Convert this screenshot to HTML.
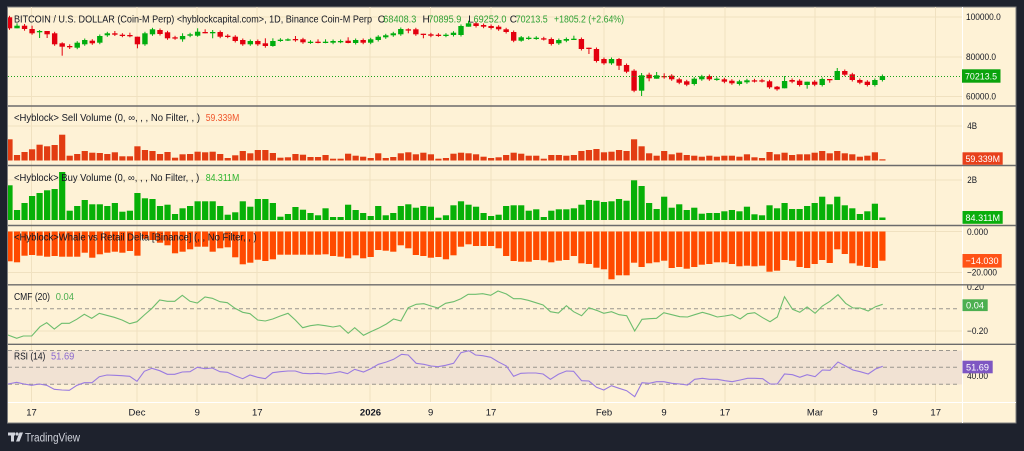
<!DOCTYPE html>
<html><head><meta charset="utf-8"><style>
html,body{margin:0;padding:0;background:#1e222d;}
svg{display:block;}
text{font-family:"Liberation Sans",Arial,sans-serif;}
</style></head><body>
<svg id="s" width="1024" height="451" viewBox="0 0 1024 451" xmlns="http://www.w3.org/2000/svg">
<defs>
<clipPath id="plot"><rect x="8" y="7" width="954" height="395"/></clipPath>
<clipPath id="cmfax"><rect x="962" y="285.5" width="54" height="58"/></clipPath>
</defs>
<rect width="1024" height="451" fill="#1e222d"/>
<rect x="7.5" y="7" width="1008.5" height="416" fill="#fef2d6" stroke="#7d7d7d" stroke-width="1"/>

<!-- grid -->
<g stroke="#f0e1c0" stroke-width="1">
<line x1="31.5" y1="7" x2="31.5" y2="402"/><line x1="137" y1="7" x2="137" y2="402"/><line x1="197" y1="7" x2="197" y2="402"/><line x1="257" y1="7" x2="257" y2="402"/><line x1="370" y1="7" x2="370" y2="402"/><line x1="430.5" y1="7" x2="430.5" y2="402"/><line x1="491" y1="7" x2="491" y2="402"/><line x1="604" y1="7" x2="604" y2="402"/><line x1="664" y1="7" x2="664" y2="402"/><line x1="725" y1="7" x2="725" y2="402"/><line x1="815" y1="7" x2="815" y2="402"/><line x1="875" y1="7" x2="875" y2="402"/><line x1="935.5" y1="7" x2="935.5" y2="402"/>
<line x1="8" y1="17" x2="962" y2="17"/><line x1="8" y1="57" x2="962" y2="57"/><line x1="8" y1="96.5" x2="962" y2="96.5"/>
<line x1="8" y1="126" x2="962" y2="126"/><line x1="8" y1="180" x2="962" y2="180"/>
<line x1="8" y1="231.5" x2="962" y2="231.5"/><line x1="8" y1="272.5" x2="962" y2="272.5"/>
<line x1="8" y1="331" x2="962" y2="331"/>
</g>

<!-- RSI band -->
<rect x="8" y="350.5" width="954" height="34" fill="#f1e2d3"/>

<g clip-path="url(#plot)">
<g id="candles"></g>
<g id="sell"></g>
<g id="buy"></g>
<g id="delta"></g>
<line x1="8" y1="76.5" x2="962" y2="76.5" stroke="#1aa31a" stroke-width="1" stroke-dasharray="1,2"/>
<g stroke="#9a968e" stroke-width="1" stroke-dasharray="4,3" fill="none">
<line x1="8" y1="308.7" x2="960" y2="308.7"/>
<line x1="8" y1="350.5" x2="960" y2="350.5"/>
<line x1="8" y1="367.3" x2="960" y2="367.3"/>
<line x1="8" y1="384.3" x2="960" y2="384.3"/>
</g>
<polyline fill="none" stroke="#6dbd6d" stroke-width="1.1" points="8,335 16.7,338.3 23.3,336 31.7,336 40,326.7 46.7,322.7 54.3,329 61.7,323.3 69.3,323.3 76.7,319.3 84.3,314.3 91.7,318.3 99.3,313.3 106.7,315.3 114.3,317.3 122,320 129.7,323.7 137,321.7 144.3,315 152,308.3 159.7,300 167.3,301.3 174.7,301.3 182.3,295.3 190,301.3 197.3,303 205,297 212.3,298.3 220,301.7 227.3,302.7 235,308.3 242.7,312.3 250,313.7 257.7,320 265.3,321 272.7,319 280.3,316 288,313.3 295.3,320 302.7,327.7 310.3,325.7 318,324.7 325.3,325.7 333,327 340,325.7 348.2,333.3 354.7,327.7 363.5,335.3 370.7,331.7 378.4,328.3 386.4,324 393.6,319 400.9,321 408.2,307.7 416.2,304.3 423.8,303.7 431.1,306 438,308 445.6,303.3 453.6,301.7 460.9,298.7 468.2,294.3 475.5,294.3 482.7,293.7 490.7,295.3 498,291 506.4,294 513.6,298.7 520.9,298.7 528.2,300.3 535.8,302.7 543.1,305 550.4,311.7 558.4,313 566.4,305.7 573.6,311.7 581.6,315.7 588.9,307.7 596.5,310.3 603.8,313.3 611.5,311.7 619.1,314.7 626.7,315.7 634.7,331 642,319.3 649.3,318.7 656.5,318.3 663.8,312.7 671.8,314.7 679.8,316.7 687.5,317 694.7,314.7 702.4,312.3 709.6,314.3 717.3,317 724.9,316 732.2,314.7 740.2,319 747.5,313.7 754.7,312.7 762.7,317.7 770,321.7 777.3,317 784.5,296.7 792.5,309.3 799.8,312.3 807.1,307 815.1,313.3 822.4,306 830,301.3 838,294.7 845.6,303.3 852.9,308 860.2,308 868.2,311 875.5,306.7 882.7,304.3"/>
<polyline fill="none" stroke="#9a7be0" stroke-width="1.1" points="8,384 16.7,382.3 24,384 31.7,385.3 39.3,384 46.7,385.3 54.3,389.3 62,390 69.3,390.3 77,385.3 84.3,382.7 92,382.7 99.3,376.7 107,375 114.7,375.3 122,375.7 129.7,376.3 137,381.3 144.3,371.3 152,368.3 159.7,370.7 167.3,374.3 174.7,374.3 182.3,372 190,371.7 197.3,367.3 205,368.7 212.3,368 220,371.7 227.3,372.3 235,375.7 242.7,378.7 250,375 257.7,377.3 265.3,378.7 272.7,372.7 280.3,371.7 288,371 295.3,371 302.7,373.3 310.3,373.7 318,373.3 325.3,374 333,373 340,371.7 347.5,373.7 354.7,369.3 363.5,372 370.7,368.7 378.4,364.3 386.4,362 393.6,359.3 401.6,354.3 408.2,355 416.2,363.3 423.8,364.3 431.1,366 438,366.7 445.6,365.3 453.6,363.3 460.9,352.7 468.9,350.7 475.5,355 482.7,355.7 490.7,357.3 498,361.7 506.4,366 513.6,376.3 520.9,373.3 528.2,373 535.8,373 543.1,374 550.4,379.3 558.4,374.3 566.4,371 573.6,371.3 581.6,380.7 588.9,381 596.5,387.3 603.8,390 611.5,385.7 619.1,388.3 626.7,390.7 634.7,396.7 642,382.7 649.3,383.3 656.5,381.7 663.8,381.7 671.8,383.3 679.8,384 687.5,385 694.7,379.3 702.4,378.3 709.6,379.3 717.3,379.3 724.9,380.7 732.2,381.7 740.2,380 747.5,378.3 754.7,378.3 762.7,378.7 770,384 777.3,384 784.5,374 792.5,374.7 799.8,377.3 807.1,374.7 815.1,376.7 822.4,370 830,370.3 838,362 845.6,366 852.9,370 860.2,371.7 868.2,374 875.5,369 882.7,366.3"/>
</g>

<!-- separators and axis lines -->
<line x1="962.5" y1="7" x2="962.5" y2="423" stroke="#ffffff" stroke-width="1"/>
<line x1="8" y1="402.5" x2="1016" y2="402.5" stroke="#ffffff" stroke-width="1"/>
<g stroke="#6b6b6b" stroke-width="1.4">
<line x1="8" y1="106" x2="1016" y2="106"/>
<line x1="8" y1="165.5" x2="1016" y2="165.5"/>
<line x1="8" y1="225.5" x2="1016" y2="225.5"/>
<line x1="8" y1="284.8" x2="1016" y2="284.8"/>
<line x1="8" y1="344.3" x2="1016" y2="344.3"/>
</g>

<!-- header -->
<g font-size="10" fill="#131722">
<text x="14" y="22.6" textLength="358" lengthAdjust="spacingAndGlyphs">BITCOIN / U.S. DOLLAR (Coin-M Perp) &lt;hyblockcapital.com&gt;, 1D, Binance Coin-M Perp</text>
<text x="377.7" y="22.6">O</text><text x="383.3" y="22.6" fill="#2fa134" textLength="33" lengthAdjust="spacingAndGlyphs">68408.3</text>
<text x="422.5" y="22.6">H</text><text x="428.3" y="22.6" fill="#2fa134" textLength="33" lengthAdjust="spacingAndGlyphs">70895.9</text>
<text x="468.3" y="22.6">L</text><text x="473.5" y="22.6" fill="#2fa134" textLength="33" lengthAdjust="spacingAndGlyphs">69252.0</text>
<text x="509.8" y="22.6">C</text><text x="515.7" y="22.6" fill="#2fa134" textLength="32" lengthAdjust="spacingAndGlyphs">70213.5</text>
<text x="554" y="22.6" fill="#2fa134" textLength="70" lengthAdjust="spacingAndGlyphs">+1805.2 (+2.64%)</text>

<text x="14" y="121.2" textLength="186" lengthAdjust="spacingAndGlyphs">&lt;Hyblock&gt; Sell Volume (0, ∞, , , No Filter, , )</text>
<text x="205.7" y="121.2" fill="#f0562c" textLength="33.6" lengthAdjust="spacingAndGlyphs">59.339M</text>
<text x="14" y="181.2" textLength="185.3" lengthAdjust="spacingAndGlyphs">&lt;Hyblock&gt; Buy Volume (0, ∞, , , No Filter, , )</text>
<text x="205.7" y="181.2" fill="#2db52d" textLength="33.6" lengthAdjust="spacingAndGlyphs">84.311M</text>
<text x="14" y="240.5" textLength="242.7" lengthAdjust="spacingAndGlyphs">&lt;Hyblock&gt;Whale vs Retail Delta [Binance] (, , No Filter, , )</text>
<text x="14" y="300.2" textLength="36" lengthAdjust="spacingAndGlyphs">CMF (20)</text>
<text x="55.7" y="300.2" fill="#4caf50" textLength="18.3" lengthAdjust="spacingAndGlyphs">0.04</text>
<text x="14" y="359.5" textLength="31.3" lengthAdjust="spacingAndGlyphs">RSI (14)</text>
<text x="51" y="359.5" fill="#8a68d0" textLength="23.3" lengthAdjust="spacingAndGlyphs">51.69</text>
</g>

<!-- right axis -->
<g font-size="9" fill="#131722">
<text x="966" y="19.8" textLength="34.7" lengthAdjust="spacingAndGlyphs">100000.0</text>
<text x="966" y="60.2" textLength="30" lengthAdjust="spacingAndGlyphs">80000.0</text>
<text x="966" y="99.4" textLength="30" lengthAdjust="spacingAndGlyphs">60000.0</text>
<text x="967.3" y="129.2" textLength="9.7" lengthAdjust="spacingAndGlyphs">4B</text>
<text x="967.3" y="183.2" textLength="9.7" lengthAdjust="spacingAndGlyphs">2B</text>
<text x="967" y="234.9" textLength="21" lengthAdjust="spacingAndGlyphs">0.000</text>
<text x="967" y="275.5" textLength="30" lengthAdjust="spacingAndGlyphs">−20.000</text>
<text x="967" y="289.9" clip-path="url(#cmfax)" textLength="17" lengthAdjust="spacingAndGlyphs">0.20</text>
<text x="967" y="334.2" textLength="21" lengthAdjust="spacingAndGlyphs">−0.20</text>
<text x="967" y="379.2" textLength="21" lengthAdjust="spacingAndGlyphs">40.00</text>
</g>
<rect x="962" y="69.3" width="38.5" height="13.4" fill="#0aa30c"/>
<text x="965" y="79.3" font-size="9.5" fill="#ffffff" textLength="32" lengthAdjust="spacingAndGlyphs">70213.5</text>
<rect x="962.5" y="152.3" width="40.2" height="12.4" fill="#e8401a"/>
<text x="965.5" y="161.8" font-size="9.5" fill="#ffffff" textLength="34.5" lengthAdjust="spacingAndGlyphs">59.339M</text>
<rect x="962.5" y="211" width="40.2" height="12.8" fill="#0aae0c"/>
<text x="965.5" y="220.8" font-size="9.5" fill="#ffffff" textLength="34.5" lengthAdjust="spacingAndGlyphs">84.311M</text>
<rect x="962.5" y="254" width="39.2" height="13.6" fill="#ff5216"/>
<text x="965.5" y="264.2" font-size="9.5" fill="#ffffff" textLength="33" lengthAdjust="spacingAndGlyphs">−14.030</text>
<rect x="962.5" y="299.3" width="25.2" height="11.8" fill="#4caf50"/>
<text x="966" y="308.6" font-size="9.5" fill="#ffffff" textLength="18" lengthAdjust="spacingAndGlyphs">0.04</text>
<rect x="962.5" y="360.7" width="30.2" height="12.6" fill="#7e57c2"/>
<text x="966" y="370.5" font-size="9.5" fill="#ffffff" textLength="23" lengthAdjust="spacingAndGlyphs">51.69</text>

<!-- time axis -->
<g font-size="9.5" fill="#131722" text-anchor="middle">
<text x="31.5" y="415.7">17</text>
<text x="137" y="415.7">Dec</text>
<text x="197.3" y="415.7">9</text>
<text x="257.3" y="415.7">17</text>
<text x="370.5" y="415.7" font-weight="bold">2026</text>
<text x="430.7" y="415.7">9</text>
<text x="491" y="415.7">17</text>
<text x="604" y="415.7">Feb</text>
<text x="664" y="415.7">9</text>
<text x="725" y="415.7">17</text>
<text x="815" y="415.7">Mar</text>
<text x="875" y="415.7">9</text>
<text x="935.7" y="415.7">17</text>
</g>

<!-- TradingView logo -->
<g fill="#d1d4dc">
<rect x="8" y="432.5" width="7" height="3"/>
<rect x="11" y="432.5" width="3" height="9"/>
<circle cx="17" cy="434" r="1.6"/>
<polygon points="19.5,432.5 23,432.5 19.5,441.5 16,441.5"/>
<text x="25" y="441.3" font-size="11.5" textLength="55" lengthAdjust="spacingAndGlyphs">TradingView</text>
</g>
</svg>
<script>
(function(){
const NS="http://www.w3.org/2000/svg";
function el(p,tag,a){const e=document.createElementNS(NS,tag);for(const k in a)e.setAttribute(k,a[k]);p.appendChild(e);return e;}
const K=[
[0,17.3,28.3],[1,25.7,28.3,23.3,28.3],[0,25.7,29,24,30.7],[0,29,33.3,25.7,34.7],[1,31,32,30,38],[0,31,34.3,31,38],[0,33.3,44.3],[0,43.3,46.7,42.3,55.7],[0,46,47,44.3,49],[1,42.7,47.7],
[1,40,44.3],[0,40.7,43.3],[1,36,42.7],[1,33.3,35.3],[0,33.3,34.7,31,36],[0,34.7,35.7],[0,35,36.3,32.7,37.3],[0,36.7,44.3,36.7,48.3],[1,33.3,44.3],[1,29.3,34.3],
[0,30,34],[0,32.3,38.3],[0,37.3,38.3],[1,36,39.3,33.3,41.7],[1,34.3,35.7],[1,31.7,35.7,28.3,36.7],[0,32,33.3,29.3,33.3],[1,32,32.7,30,38.3],[0,32,36.7],[0,35.7,36.7],
[0,36.7,41],[0,40,44.3],[1,41,44.3],[0,41,44.3],[0,43.3,46,38.3,47.7],[1,41,46,38.3,46.7],[1,39.7,40.3],[1,39.3,40,38.3,41],[0,39,39.7,36,41.7],[0,39.3,42.3],
[1,41.7,42.3],[0,41.7,42.3,39.3,43.3],[1,41.7,42.3,39.3,43.3],[1,41,42.7],[1,41,41.7],[0,40.7,43,37.3,43.3],[1,40,43],[0,40,42.7],[1,39.3,42.7],[1,36.7,40],
[1,35.3,37.3],[1,33.3,35.3],[1,29,34.3],[0,29.3,30,28.3,33.3],[0,29.3,34.3],[0,33.7,34.7,33.7,38.3],[0,34.3,35.7],[0,34.7,35.3],[1,34.7,35.7],[1,32.7,35],
[1,26,35],[1,23.3,26.7,20.7,26.7],[0,23.3,26],[0,25,26.7],[0,26,28],[0,26.7,29.3],[0,29.3,32],[0,32,40.7],[1,37.3,40.7,36,41.7],[1,37.7,38.3],
[1,37.7,38.3],[0,38.3,39],[0,39,44],[1,40,43.3],[1,39,40.7],[1,38.7,39.3,35.7,39.3],[0,39,49],[0,47.7,48.3,47.7,54],[0,49,61],[0,59,63.3],
[1,59,63.3],[0,59,65.7,58,70],[0,65,71.7],[0,70.7,90.7],[1,75.3,90.7,73,96],[0,74.7,78.3,72.7,81.3],[1,75.3,78.7,72,78.7],[0,76,76.7,73.3,78.7],[0,75.7,79.3],[0,79.3,82.7],
[0,81.3,84.7],[1,78.7,84],[1,76.3,79.3],[0,76,79.3],[1,78.7,79.3],[0,79.3,81.7],[0,80.7,83.3],[1,81.3,84],[1,80.3,82.3],[0,80.3,81],
[0,80.3,81],[0,81.3,87.3],[0,86.7,89.3,86,90.7],[1,81,88.3,76,88.3],[0,80,81.7],[0,80.7,85],[1,81.7,85,81.7,88.7],[0,81.7,84.7],[1,79,85],[0,79,79.7,79,82.7],
[1,71,80,68,80],[0,71,74.7],[0,74.3,80],[0,80,82.7],[0,81.7,85],[1,80,85],[1,76,80]
];
const S=[139.3,155,152,149.3,144.7,146.3,145,134.7,155.7,154,
151,152.7,153,154,152.3,156.3,156.3,146.3,150,151,
154,152,157.7,154.3,154,151.7,152.3,151.7,154,158,
155.3,151,153.3,150,150,153,157.7,157.3,154,154.7,
157,157,155,158.7,158.7,153.7,155.7,156.7,158,153.3,
158,157,153.3,152.3,154.3,152.7,154.3,158.7,158,153.7,
152.7,153.3,154.3,156.7,158,157.3,155,152.7,153.7,155.7,
155.7,158.7,155,155,155.7,155,151,150,149,152.3,
151.7,150,151,139.3,146.3,153.3,155.7,151,154.3,152.7,
155,155.7,156.7,155.7,156.7,155.7,155.7,156.7,154.3,157.3,
158,152,154.3,152.7,155,154.3,154.3,152.7,151,153.3,
151,153.3,154.3,156.7,155.7,152.3,159.3];
const B=[185.3,210,203,196,193,190.3,189,172,210.7,206,
200,204.3,204.3,206,203,211.7,210.7,193,198.3,199,
206,204.7,214,208.3,206,201.3,201.3,201.3,206,214.7,
212.3,201.3,206.7,199,199,203,216.7,214,207,209.7,
213,215.3,208.3,217,217,204.7,210,213,216,206,
215.3,213,206,204.3,207.7,206,206.7,217.7,215.3,205.3,
201.3,204.7,206.7,213,216,214.7,206,205.3,205.3,210.7,
209.3,217,210.7,209.3,209.3,208.3,204.7,200,200.7,202,
201.3,199,200.7,180.3,186,203,209,196.7,207.7,204.3,
210,207.7,213.7,213,213,211.3,210,211.3,206.7,214.3,
215.3,205.3,208.3,203,209,209,206,203,196.7,204.3,
196.7,205.3,208.3,214,211.3,203.7,217.5];
const D=[261.3,262.3,255.7,255,255.7,256.7,256,256.7,256.7,256.7,
252.7,257.7,254.3,252.7,251.7,252.7,251,255.7,238.7,240,
242.7,245.3,253.3,251.7,249.3,246.7,246.7,251.7,248.3,247.3,
257.3,264.3,262.7,259.7,261,259.3,254.7,254.7,254.7,254.7,
254.7,254.7,254.3,256,256.7,258.3,255.3,258.3,257,250,
250.7,251.7,245.3,248.3,255,256,257.7,257,259.3,255.3,
246.7,244.3,246,246,246,248.3,256,261,261.7,261.7,
260,260.3,262.3,260.7,260,256,263.3,264,267.7,269.3,
279.3,275.3,275.3,262.7,267,263.3,262.3,260.7,268,267,
268.7,267,264.7,264,262.3,262.3,264,266.3,265.7,266.3,
265.7,271.7,270.7,260,260.7,267,268,264,260,263,
249.3,254,263.3,265.7,267,268,260.7];
const gC=document.getElementById('candles'),gS=document.getElementById('sell'),gB=document.getElementById('buy'),gD=document.getElementById('delta');
K.forEach((c,i)=>{const cx=9.5+7.525*i;const col=c[0]?'#00ad0f':'#e3000f';
const wt=c.length>3?c[3]:c[1]-1.5;const wb=c.length>3?c[4]:c[2]+1.5;
el(gC,'rect',{x:(cx-0.5).toFixed(2),y:wt,width:1,height:(wb-wt).toFixed(2),fill:col});
const h=Math.max(c[2]-c[1],1.3);
el(gC,'rect',{x:(cx-2.7).toFixed(2),y:c[1],width:5.4,height:h.toFixed(2),fill:col});});
S.forEach((t,i)=>{const cx=9.5+7.525*i;el(gS,'rect',{x:(cx-3.1).toFixed(2),y:t,width:6.2,height:(160.5-t).toFixed(2),fill:'#e23c12'});});
B.forEach((t,i)=>{const cx=9.5+7.525*i;el(gB,'rect',{x:(cx-3.1).toFixed(2),y:t,width:6.2,height:(220-t).toFixed(2),fill:'#07b007'});});
D.forEach((b,i)=>{const cx=9.5+7.525*i;el(gD,'rect',{x:(cx-3.1).toFixed(2),y:231.5,width:6.2,height:(b-231.5).toFixed(2),fill:'#ff4a00'});});
})();
</script>
</body></html>
